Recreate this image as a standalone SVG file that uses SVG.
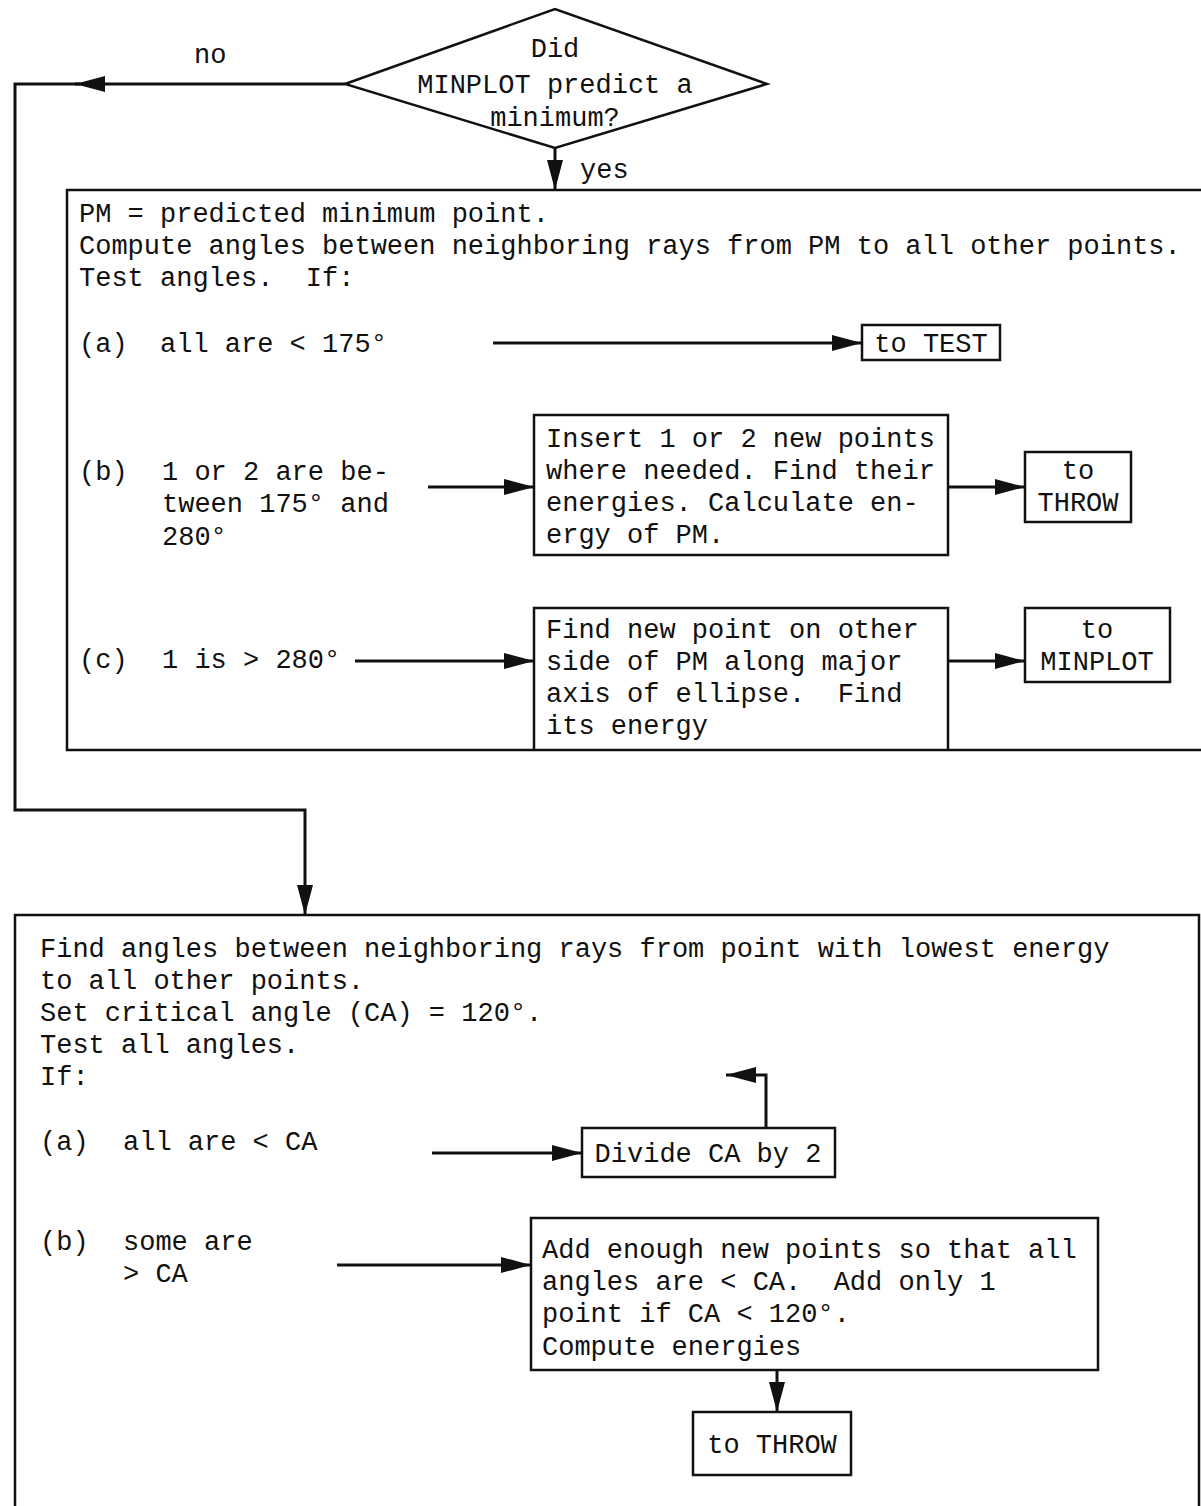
<svg xmlns="http://www.w3.org/2000/svg" width="1201" height="1506" viewBox="0 0 1201 1506" xml:space="preserve">
<style>
text{font-family:"Liberation Mono","DejaVu Sans Mono",monospace;font-size:27px;fill:#111;white-space:pre}
.box{fill:none;stroke:#111;stroke-width:2.5}
.wire{fill:none;stroke:#111;stroke-width:3}
</style>
<defs>
<marker id="ah" markerUnits="userSpaceOnUse" markerWidth="30" markerHeight="16" refX="30" refY="8" orient="auto">
<path d="M0,0 L30,8 L0,16 z" fill="#111"/>
</marker>
</defs>
<rect width="1201" height="1506" fill="#fff"/>

<g id="decision">
<polygon class="box" points="345,84 555,9 767,84 555,148"/>
<text x="555" y="57" text-anchor="middle">Did</text>
<text x="555" y="93" text-anchor="middle">MINPLOT predict a</text>
<text x="555" y="126" text-anchor="middle">minimum?</text>
</g>

<g id="box1">
<polyline class="box" points="1201,190 67,190 67,750 1201,750"/>
<text x="79" y="222">PM = predicted minimum point.</text>
<text x="79" y="254">Compute angles between neighboring rays from PM to all other points.</text>
<text x="79" y="286">Test angles.  If:</text>
<text x="79" y="352">(a)</text>
<text x="160" y="352">all are &lt; 175°</text>
<text x="79" y="480">(b)</text>
<text x="162" y="480">1 or 2 are be-</text>
<text x="162" y="512">tween 175° and</text>
<text x="162" y="545">280°</text>
<text x="79" y="668">(c)</text>
<text x="162" y="668">1 is &gt; 280°</text>
</g>

<g id="toTest1">
<rect class="box" x="862" y="325" width="138" height="35"/>
<text x="931" y="352" text-anchor="middle">to TEST</text>
</g>

<g id="insert">
<rect class="box" x="534" y="415" width="414" height="140"/>
<text x="546" y="447">Insert 1 or 2 new points</text>
<text x="546" y="479">where needed. Find their</text>
<text x="546" y="511">energies. Calculate en-</text>
<text x="546" y="543">ergy of PM.</text>
</g>

<g id="toThrow1">
<rect class="box" x="1025" y="452" width="106" height="70"/>
<text x="1078" y="479" text-anchor="middle">to</text>
<text x="1078" y="511" text-anchor="middle">THROW</text>
</g>

<g id="findNew">
<polyline class="box" points="534,750 534,608 948,608 948,750"/>
<text x="546" y="638">Find new point on other</text>
<text x="546" y="670">side of PM along major</text>
<text x="546" y="702">axis of ellipse.  Find</text>
<text x="546" y="734">its energy</text>
</g>

<g id="toMinplot">
<rect class="box" x="1025" y="608" width="145" height="74"/>
<text x="1097" y="638" text-anchor="middle">to</text>
<text x="1097" y="670" text-anchor="middle">MINPLOT</text>
</g>

<g id="box2">
<polyline class="box" points="15,1506 15,915 1199,915 1199,1506"/>
<text x="40" y="957">Find angles between neighboring rays from point with lowest energy</text>
<text x="40" y="989">to all other points.</text>
<text x="40" y="1021">Set critical angle (CA) = 120°.</text>
<text x="40" y="1053">Test all angles.</text>
<text x="40" y="1085">If:</text>
<text x="40" y="1150">(a)</text>
<text x="123" y="1150">all are &lt; CA</text>
<text x="40" y="1250">(b)</text>
<text x="123" y="1250">some are</text>
<text x="123" y="1282">&gt; CA</text>
</g>

<g id="divide">
<rect class="box" x="582" y="1128" width="253" height="49"/>
<text x="708" y="1162" text-anchor="middle">Divide CA by 2</text>
</g>

<g id="addEnough">
<rect class="box" x="531" y="1218" width="567" height="152"/>
<text x="542" y="1258">Add enough new points so that all</text>
<text x="542" y="1290">angles are &lt; CA.  Add only 1</text>
<text x="542" y="1322">point if CA &lt; 120°.</text>
<text x="542" y="1355">Compute energies</text>
</g>

<g id="toThrow2">
<rect class="box" x="693" y="1412" width="158" height="63"/>
<text x="772" y="1453" text-anchor="middle">to THROW</text>
</g>

<g id="connectors">
<path class="wire" d="M345,84 L75,84" marker-end="url(#ah)"/>
<path class="wire" d="M80,84 L15,84 L15,810 L305,810 L305,915" marker-end="url(#ah)"/>
<path class="wire" d="M555,148 L555,190" marker-end="url(#ah)"/>
<path class="wire" d="M493,343 L862,343" marker-end="url(#ah)"/>
<path class="wire" d="M428,487 L534,487" marker-end="url(#ah)"/>
<path class="wire" d="M948,487 L1025,487" marker-end="url(#ah)"/>
<path class="wire" d="M355,661 L534,661" marker-end="url(#ah)"/>
<path class="wire" d="M948,661 L1025,661" marker-end="url(#ah)"/>
<path class="wire" d="M432,1153 L582,1153" marker-end="url(#ah)"/>
<path class="wire" d="M766,1128 L766,1075 L726,1075" marker-end="url(#ah)"/>
<path class="wire" d="M337,1265 L531,1265" marker-end="url(#ah)"/>
<path class="wire" d="M777,1370 L777,1412" marker-end="url(#ah)"/>
</g>

<text x="194" y="63">no</text>
<text x="580" y="178">yes</text>
</svg>
